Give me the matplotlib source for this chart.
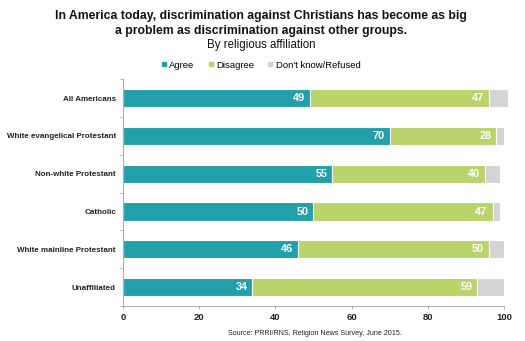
import matplotlib
matplotlib.use("Agg")
import matplotlib.pyplot as plt
from matplotlib.lines import Line2D
import numpy as np

plt.rcParams['font.family'] = ['Liberation Sans', 'DejaVu Sans']

categories = ["All Americans", "White evangelical Protestant", "Non-white Protestant",
              "Catholic", "White mainline Protestant", "Unaffiliated"]
agree = [49, 70, 55, 50, 46, 34]
disagree = [47, 28, 40, 47, 50, 59]
dontknow = [5, 2, 4, 2, 4, 7]
series_names = ["Agree", "Disagree", "Don't know/Refused"]
colors = ["#22a0a9", "#b9d46b", "#d4d4d4"]
xticks = [0, 20, 40, 60, 80, 100]

fig = plt.figure(figsize=(5.25, 3.41), dpi=100)
ax = fig.add_axes([0.234, 0.1026, 0.726, 0.665])

y = np.arange(len(categories))
h = 0.48
left = np.zeros(len(categories))
for vals, col in zip([agree, disagree, dontknow], colors):
    ax.barh(y, vals, left=left, height=h, color=col, edgecolor="white", linewidth=0.8,
            clip_on=False)
    left = left + np.array(vals)

left = np.zeros(len(categories))
for vals in [agree, disagree]:
    for i, v in enumerate(vals):
        ax.text(left[i] + v - 1.3, y[i], str(v), ha="right", va="center",
                color="white", fontsize=7.8, fontweight="bold")
    left = left + np.array(vals)

ax.set_ylim(len(categories) - 0.5, -0.5)
ax.set_xlim(0, 100)
ax.set_yticks(y)
ax.set_yticklabels(categories, fontsize=5.8, fontweight="bold", color="#222222")
ax.tick_params(axis="y", length=0, pad=5)
ax.set_yticks(np.arange(len(categories) + 1) - 0.5, minor=True)
ax.tick_params(axis="y", which="minor", length=2.5, color="#b0b0b0", width=0.7)
ax.set_xticks(xticks)
ax.set_xticklabels([str(t) for t in xticks], fontsize=6.8, fontweight="bold", color="#222222")
ax.tick_params(axis="x", length=2.5, color="#b0b0b0", width=0.7, pad=2.5)
for s in ["top", "right"]:
    ax.spines[s].set_visible(False)
for s in ["left", "bottom"]:
    ax.spines[s].set_color("#b0b0b0")
    ax.spines[s].set_linewidth(0.8)

fig.text(0.497, 0.932, "In America today, discrimination against Christians has become as big\na problem as discrimination against other groups.",
         ha="center", va="center", fontsize=8.8, fontweight="bold", linespacing=1.3,
         color="#111111")
fig.text(0.497, 0.868, "By religious affiliation", ha="center", va="center", fontsize=8.3,
         color="#111111")

handles = [Line2D([0], [0], marker="s", linestyle="", markersize=2.5, color=c) for c in colors]
fig.legend(handles, series_names, loc="center", bbox_to_anchor=(0.497, 0.809), ncol=3,
           frameon=False, fontsize=6.8, handlelength=0.6, handletextpad=0.3, columnspacing=1.4)

fig.text(0.6, 0.021, "Source: PRRI/RNS, Religion News Survey, June 2015.", ha="center",
         va="center", fontsize=5.1, color="#222222")

fig.savefig("out.png", dpi=100)
